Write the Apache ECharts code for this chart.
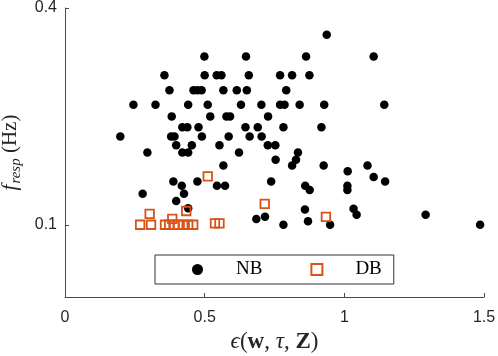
<!DOCTYPE html>
<html>
<head>
<meta charset="utf-8">
<script src="https://cdn.jsdelivr.net/npm/echarts@6/dist/echarts.min.js"></script>
<style>
  html, body { margin: 0; padding: 0; background: #fff; }
  #chart { width: 498px; height: 356px; }
</style>
</head>
<body>
<div id="chart"></div>
<script>
// NB points: [epsilon, f_resp]
const nbPoints = [
  [0.937, 0.363],
  [0.499, 0.333], [0.648, 0.333], [0.863, 0.333], [1.105, 0.333],
  [0.356, 0.307], [0.500, 0.307], [0.543, 0.307], [0.560, 0.307], [0.658, 0.307], [0.770, 0.307], [0.813, 0.307], [0.875, 0.307],
  [0.374, 0.286], [0.460, 0.286], [0.474, 0.286], [0.489, 0.286], [0.567, 0.286], [0.615, 0.286], [0.651, 0.286], [0.792, 0.286],
  [0.245, 0.266], [0.324, 0.266], [0.441, 0.266], [0.511, 0.266], [0.630, 0.266], [0.703, 0.266], [0.770, 0.266], [0.786, 0.266], [0.840, 0.266], [0.928, 0.266], [1.143, 0.266],
  [0.382, 0.250], [0.520, 0.250], [0.578, 0.250], [0.591, 0.250], [0.727, 0.250],
  [0.420, 0.235], [0.438, 0.235], [0.478, 0.235], [0.646, 0.235], [0.690, 0.235], [0.782, 0.235], [0.918, 0.235],
  [0.198, 0.222], [0.380, 0.222], [0.392, 0.222], [0.490, 0.222], [0.586, 0.222], [0.661, 0.222], [0.704, 0.222],
  [0.398, 0.210], [0.454, 0.210], [0.553, 0.210], [0.726, 0.210], [0.753, 0.210],
  [0.295, 0.200], [0.420, 0.200], [0.441, 0.200], [0.623, 0.200], [0.834, 0.200],
  [0.754, 0.190], [0.827, 0.190],
  [0.567, 0.182], [0.813, 0.182], [0.926, 0.182], [1.083, 0.182],
  [1.012, 0.174],
  [1.105, 0.166],
  [0.388, 0.160], [0.474, 0.160], [0.738, 0.160], [1.146, 0.160],
  [0.418, 0.154], [0.544, 0.154], [0.573, 0.154], [0.860, 0.154], [1.011, 0.154],
  [0.876, 0.148], [1.011, 0.148],
  [0.278, 0.143], [0.426, 0.143],
  [0.398, 0.133],
  [0.441, 0.123], [0.859, 0.121], [1.033, 0.122],
  [1.044, 0.114], [1.291, 0.114],
  [0.716, 0.111],
  [0.685, 0.108],
  [0.870, 0.105],
  [0.782, 0.100], [0.949, 0.100], [1.486, 0.100]
]

// DB points: [epsilon, f_resp]
const dbPoints = [
  [0.269, 0.100], [0.308, 0.100], [0.303, 0.115], [0.384, 0.108], [0.434, 0.119],
  [0.511, 0.167], [0.358, 0.100], [0.373, 0.100], [0.391, 0.100], [0.405, 0.100],
  [0.423, 0.100], [0.441, 0.100], [0.459, 0.100], [0.537, 0.102], [0.553, 0.102],
  [0.715, 0.129], [0.934, 0.111]
]

const xTicks = [0, 0.5, 1, 1.5]
const yTicks = [0.1, 0.4]

const axisColor = '#4a4a4a'
const textColor = '#262626'
const serif = '"Liberation Serif", "DejaVu Serif", serif'
const sans = '"Liberation Sans", Arial, sans-serif'

const chart = echarts.init(document.getElementById('chart'))

const option = {
  animation: false,
  backgroundColor: '#fff',
  grid: {
    left: 65,
    right: 14,
    top: 8,
    bottom: 59,
    containLabel: false,
    outerBoundsMode: 'none'
  },
  legend: {
    left: 155,
    top: 255,
    orient: 'horizontal',
    backgroundColor: '#fff',
    borderColor: '#333',
    borderWidth: 1,
    borderRadius: 0,
    padding: [5, 12, 5, 37],
    itemGap: 48,
    itemWidth: 11,
    itemHeight: 11,
    textStyle: {
      fontFamily: serif,
      fontSize: 19,
      color: '#000',
      padding: [2, 0, 0, 28]
    },
    data: [
      { name: 'NB', icon: 'circle' },
      { name: 'DB', icon: 'rect' }
    ]
  },
  xAxis: {
    type: 'value',
    min: 0,
    max: 1.5,
    interval: 0.5,
    name: '{e|ϵ}{n|(}{b|w}{n|, }{i|τ}{n|, }{b|Z}{n|)}',
    nameLocation: 'middle',
    nameGap: 31,
    nameTextStyle: {
      rich: {
        e: { fontFamily: serif, fontStyle: 'italic', fontSize: 23, color: textColor },
        n: { fontFamily: serif, fontSize: 23, color: textColor },
        b: { fontFamily: serif, fontWeight: 'bold', fontSize: 23, color: textColor },
        i: { fontFamily: serif, fontStyle: 'italic', fontSize: 23, color: textColor }
      }
    },
    splitLine: { show: false },
    axisLine: { show: true, lineStyle: { color: axisColor, width: 1 } },
    axisTick: {
      show: true,
      inside: true,
      length: 4,
      customValues: xTicks,
      lineStyle: { color: axisColor }
    },
    axisLabel: {
      customValues: xTicks,
      formatter: (v) => String(v),
      fontFamily: sans,
      fontSize: 16,
      color: textColor,
      margin: 13
    }
  },
  yAxis: {
    type: 'value',
    min: 0,
    max: 0.4,
    interval: 0.1,
    name: '{f|f}{s|resp}{n| (Hz)}',
    nameLocation: 'middle',
    nameGap: 37,
    nameTextStyle: {
      rich: {
        f: { fontFamily: serif, fontStyle: 'italic', fontSize: 21, color: textColor, verticalAlign: 'top', padding: [0, 1, 0, 0] },
        s: { fontFamily: serif, fontStyle: 'italic', fontSize: 15, color: textColor, verticalAlign: 'top', padding: [9, 0, 0, 0] },
        n: { fontFamily: serif, fontSize: 21, color: textColor, verticalAlign: 'top' }
      }
    },
    splitLine: { show: false },
    axisLine: { show: true, lineStyle: { color: axisColor, width: 1 } },
    axisTick: {
      show: true,
      inside: true,
      length: 4,
      customValues: yTicks,
      lineStyle: { color: axisColor }
    },
    axisLabel: {
      customValues: yTicks,
      formatter: (v) => String(v),
      fontFamily: sans,
      fontSize: 16,
      color: textColor,
      margin: 8
    }
  },
  series: [
    {
      name: 'NB',
      type: 'scatter',
      symbol: 'circle',
      symbolSize: 8.5,
      itemStyle: { color: '#000', opacity: 1 },
      emphasis: { disabled: true },
      data: nbPoints
    },
    {
      name: 'DB',
      type: 'scatter',
      symbol: 'rect',
      symbolSize: 8.5,
      itemStyle: { color: 'rgba(0,0,0,0)', borderColor: '#D95319', borderWidth: 1.8, opacity: 1 },
      emphasis: { disabled: true },
      data: dbPoints
    }
  ]
}

chart.setOption(option)
</script>
</body>
</html>
